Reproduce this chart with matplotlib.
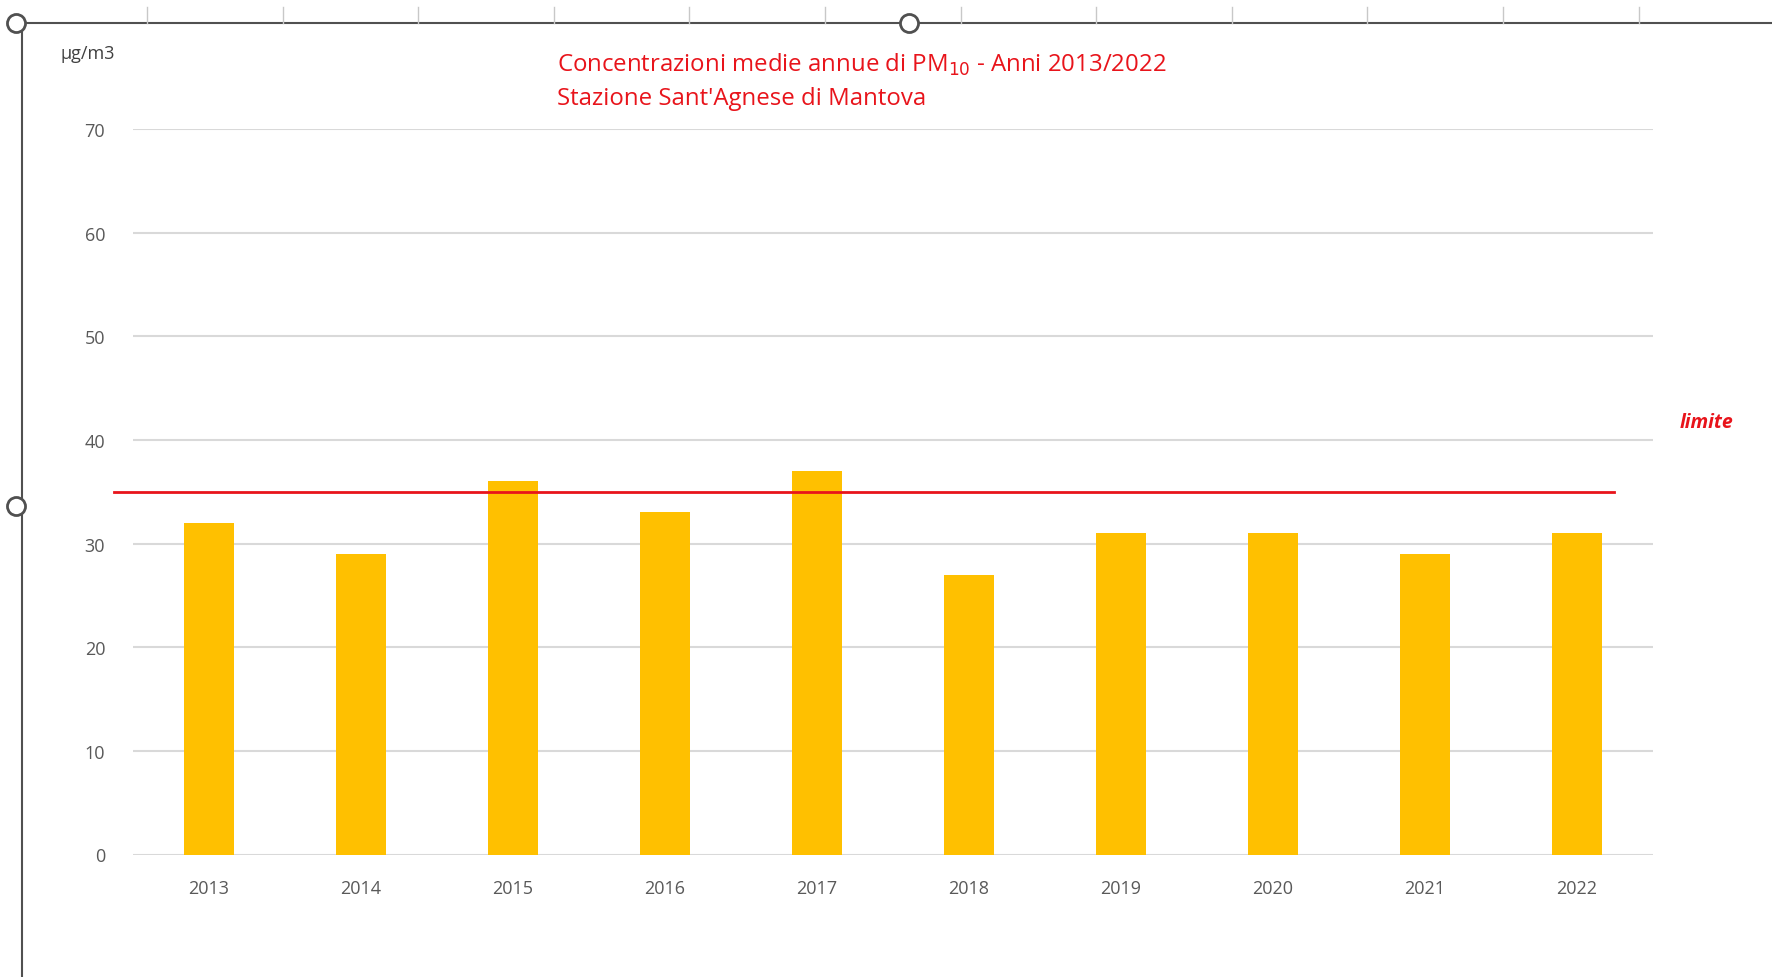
import matplotlib
matplotlib.use("Agg")
import matplotlib.pyplot as plt
from matplotlib.lines import Line2D
import matplotlib.transforms as mtrans

years = ["2013", "2014", "2015", "2016", "2017", "2018", "2019", "2020", "2021", "2022"]
pm10 = [32, 29, 36, 33, 37, 27, 31, 31, 29, 31]
limit_value = 35
yticks = [0, 10, 20, 30, 40, 50, 60, 70]

W, H = 1772, 978
fig = plt.figure(figsize=(W / 100, H / 100), dpi=100)
fig.patch.set_facecolor("white")

def fx(px):
    return px / W

def fy(py):
    return 1 - py / H

font = ["Open Sans", "DejaVu Sans"]

ax = fig.add_axes([fx(133), fy(855.5), fx(1653) - fx(133), fy(130) - fy(855.5)])
x = list(range(len(years)))
ax.bar(x, pm10, width=0.33, color="#FFC000", zorder=3)
ax.set_xlim(-0.5, len(years) - 0.5)
ax.set_ylim(0, 70)
ax.set_yticks(yticks)
ax.set_xticks(x)
ax.set_xticklabels(years)
ax.grid(axis="y", color="#d9d9d9", linewidth=1.5, zorder=0)
for s in ax.spines.values():
    s.set_visible(False)
ax.tick_params(axis="both", length=0, colors="#595959", labelsize=13)
ax.tick_params(axis="y", pad=20)
ax.tick_params(axis="x", pad=18)
for lab in ax.get_xticklabels() + ax.get_yticklabels():
    lab.set_family(font)

# limit line (extends a bit left of the plot area, like the original)
trans = mtrans.blended_transform_factory(ax.transAxes, ax.transData)
ax.plot([(114 - 133) / 1520, (1614 - 133) / 1520], [limit_value, limit_value],
        transform=trans, color="#E8141B", linewidth=2, zorder=4, clip_on=False)

fig.text(fx(1680), fy(423), "limite", color="#E8141B", fontsize=14,
         fontweight="bold", fontstyle="italic", ha="left", va="center", family=font)

fig.text(fx(60), fy(54), "µg/m3", color="#404040", fontsize=13, ha="left",
         va="center", family=font)
fig.text(fx(557), fy(65), "Concentrazioni medie annue di PM$_{10}$ - Anni 2013/2022",
         color="#E8141B", fontsize=17.3, ha="left", va="center", family=font)
fig.text(fx(557), fy(99), "Stazione Sant'Agnese di Mantova",
         color="#E8141B", fontsize=17.3, ha="left", va="center", family=font)

# Excel-like frame and selection handles
fig.add_artist(Line2D([fx(22), fx(W)], [fy(24), fy(24)], color="#505050", lw=1.5))
fig.add_artist(Line2D([fx(21.5), fx(21.5)], [fy(24), fy(H)], color="#505050", lw=1.5))
for i in range(12):
    px = 147 + i * 135.6
    fig.add_artist(Line2D([fx(px), fx(px)], [fy(8), fy(24)], color="#c8c8c8", lw=1))
for (cx, cy) in [(16, 24), (908.6, 24), (16, 507)]:
    fig.add_artist(Line2D([fx(cx)], [fy(cy)], marker="o", markersize=13,
                          markerfacecolor="white", markeredgecolor="#505050",
                          markeredgewidth=2, linestyle="none"))

fig.savefig("out.png", dpi=100)
